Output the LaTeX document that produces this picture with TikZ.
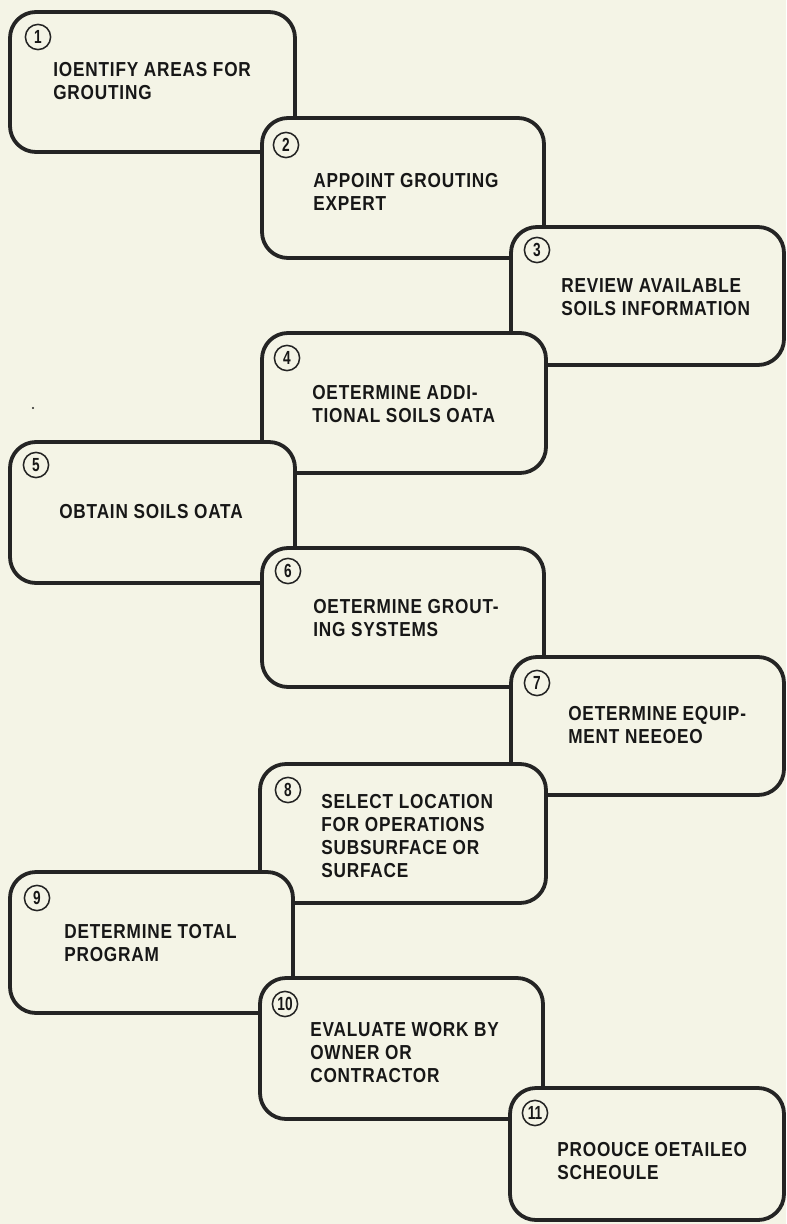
\documentclass[tikz,border=0pt]{standalone}
\usepackage{fontspec}
\setmainfont{Liberation Sans}[FakeStretch=0.85, LetterSpace=4]
\newfontfamily\narrowfont{Liberation Sans}[FakeStretch=0.72]
\definecolor{paper}{HTML}{F4F4E6}
\definecolor{ink}{HTML}{242424}
\definecolor{print}{HTML}{171717}

\begin{document}
\begin{tikzpicture}[
  x=0.25mm, y=-0.25mm,
  line cap=round, line join=round,
  stepbox/.style={draw=ink, fill=paper, line width=0.95mm, rounded corners=6.5mm},
  stepnum/.style={circle, draw=ink, line width=0.38mm, minimum size=6.3mm, inner sep=0pt,
    text=print, font=\narrowfont\bfseries\fontsize{13.5}{13.5}\selectfont},
  steptext/.style={anchor=north west, inner sep=0pt, align=left, text=print,
    font=\bfseries\fontsize{14.4}{16.4}\selectfont},
]
\useasboundingbox (0,0) rectangle (786,1224);
\fill[paper] (0,0) rectangle (786,1224);
\fill[ink] (33,408) circle (1.2);

% 1
\draw[stepbox] (10,12) rectangle (295,152);
\node[stepnum] (n1) at (38,37) {1};
\node[steptext] (t1) at (53,62) {IOENTIFY AREAS FOR\\GROUTING};
% 2
\draw[stepbox] (262,118) rectangle (544,258);
\node[stepnum] (n2) at (286,145) {2};
\node[steptext] (t2) at (313,173) {APPOINT GROUTING\\EXPERT};
% 3
\draw[stepbox] (511,227) rectangle (784,365);
\node[stepnum] (n3) at (537,250) {3};
\node[steptext] (t3) at (561,278) {REVIEW AVAILABLE\\SOILS INFORMATION};
% 4
\draw[stepbox] (262,333) rectangle (546,473);
\node[stepnum] (n4) at (287,358) {4};
\node[steptext] (t4) at (312,385) {OETERMINE ADDI-\\TIONAL SOILS OATA};
% 5
\draw[stepbox] (10,442) rectangle (295,583);
\node[stepnum] (n5) at (36,465) {5};
\node[steptext] (t5) at (59,504) {OBTAIN SOILS OATA};
% 6
\draw[stepbox] (262,548) rectangle (544,687);
\node[stepnum] (n6) at (288,571) {6};
\node[steptext] (t6) at (313,599) {OETERMINE GROUT-\\ING SYSTEMS};
% 7
\draw[stepbox] (511,657) rectangle (784,795);
\node[stepnum] (n7) at (537,683) {7};
\node[steptext] (t7) at (568,706) {OETERMINE EQUIP-\\MENT NEEOEO};
% 8
\draw[stepbox] (260,764) rectangle (546,903);
\node[stepnum] (n8) at (288,790) {8};
\node[steptext] (t8) at (321,794) {SELECT LOCATION\\FOR OPERATIONS\\SUBSURFACE OR\\SURFACE};
% 9
\draw[stepbox] (10,872) rectangle (293,1013);
\node[stepnum] (n9) at (37,898) {9};
\node[steptext] (t9) at (64,924) {DETERMINE TOTAL\\PROGRAM};
% 10
\draw[stepbox] (260,978) rectangle (543,1119);
\node[stepnum] (n10) at (285,1004) {10};
\node[steptext] (t10) at (310,1022) {EVALUATE WORK BY\\OWNER OR\\CONTRACTOR};
% 11
\draw[stepbox] (510,1088) rectangle (784,1220);
\node[stepnum] (n11) at (535,1113) {11};
\node[steptext] (t11) at (557,1142) {PROOUCE OETAILEO\\SCHEOULE};
\end{tikzpicture}
\end{document}
